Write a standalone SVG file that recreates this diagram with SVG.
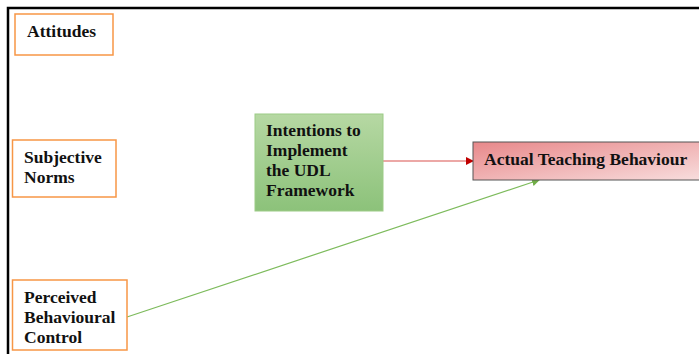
<svg xmlns="http://www.w3.org/2000/svg" width="699" height="354" viewBox="0 0 699 354">
<style>
text{font-family:"Liberation Serif","Times New Roman",serif;font-weight:bold;font-size:17.5px;fill:#111}
.o{fill:#fff;stroke:#f79646;stroke-width:1.5}
</style>
<defs>
<linearGradient id="gg" x1="0" y1="0" x2="0" y2="1"><stop offset="0" stop-color="#b6d8a3"/><stop offset="1" stop-color="#8cc27a"/></linearGradient>
<linearGradient id="rg" x1="0" y1="0" x2="1" y2="1"><stop offset="0" stop-color="#e8888a"/><stop offset="1" stop-color="#f8dede"/></linearGradient>
<marker id="ar" markerWidth="8" markerHeight="8" refX="7" refY="4" orient="auto" markerUnits="userSpaceOnUse"><path d="M0,0 L8,4 L0,8 z" fill="#c00000"/></marker>
<marker id="ag" markerWidth="8" markerHeight="8" refX="7" refY="4" orient="auto" markerUnits="userSpaceOnUse"><path d="M0,0 L8,4 L0,8 z" fill="#70ad47"/></marker>
</defs>
<rect width="699" height="354" fill="#fff"/>
<path d="M8,354 V8 H699" fill="none" stroke="#000" stroke-width="2.5"/>
<g id="connectors">
<line x1="383" y1="161" x2="473" y2="161" stroke="#d9534f" stroke-width="1.2" marker-end="url(#ar)"/>
<line x1="127" y1="317" x2="539" y2="180" stroke="#7dbb5c" stroke-width="1.2" marker-end="url(#ag)"/>
</g>
<g id="attitudes"><rect class="o" x="15" y="14" width="98" height="41"/><text x="27" y="37">Attitudes</text></g>
<g id="subjective-norms"><rect class="o" x="12.5" y="140" width="103.5" height="57"/><text x="24" y="163">Subjective</text><text x="24" y="183">Norms</text></g>
<g id="pbc"><rect class="o" x="12.5" y="280" width="114.5" height="70"/><text x="24" y="303">Perceived</text><text x="24" y="323">Behavioural</text><text x="24" y="343">Control</text></g>
<g id="intentions"><rect x="255" y="114" width="128" height="97" fill="url(#gg)" stroke="#9ccb86" stroke-width="1"/><text x="266" y="136">Intentions to</text><text x="266" y="156">Implement</text><text x="266" y="176">the UDL</text><text x="266" y="196">Framework</text></g>
<g id="actual"><rect x="473" y="142" width="232" height="38" fill="url(#rg)" stroke="#555" stroke-width="1"/><text x="484" y="165">Actual Teaching Behaviour</text></g>
</svg>
